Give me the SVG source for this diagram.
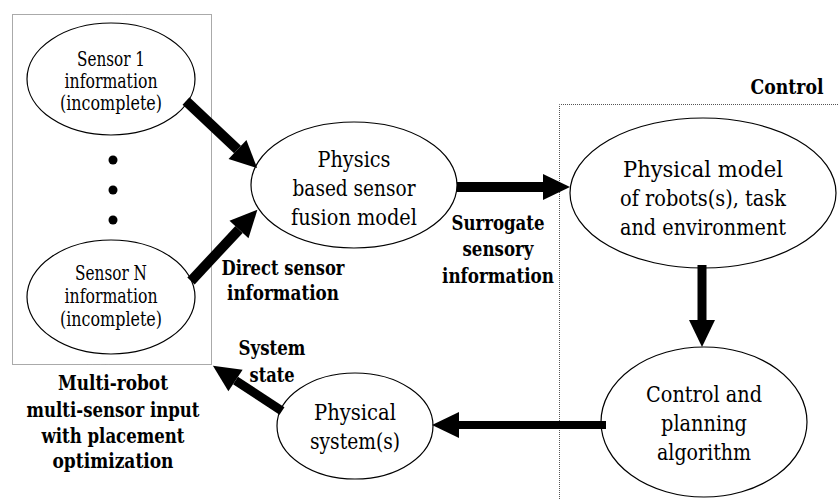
<svg xmlns="http://www.w3.org/2000/svg" width="838" height="499" viewBox="0 0 838 499">
  <style>
    .node { fill: #ffffff; stroke: #000000; stroke-width: 1.2; }
    .frame { fill: none; stroke: #555555; stroke-width: 1; stroke-dasharray: 1 1; }
    text { fill: #000; text-anchor: middle; font-family: 'DejaVu Serif', serif; }
    .t20 { font-size: 19.5px; }
    .t24 { font-size: 23px; }
    .lbl { font-size: 21px; font-weight: bold; }
    .arrow { stroke: #000; fill: none; stroke-linecap: butt; marker-end: url(#head); }
  </style>
  <defs>
    <marker id="head" markerUnits="userSpaceOnUse" markerWidth="27" markerHeight="26" refX="0" refY="13" orient="auto" overflow="visible">
      <path d="M0,0 L27,13 L0,26 z" fill="#000"/>
    </marker>
  </defs>

  <rect width="838" height="499" fill="#ffffff"/>

  <!-- dotted frames -->
  <g id="sensor-frame">
    <rect class="frame" x="12.5" y="14.5" width="199" height="350"/>
    <text class="lbl" x="113" y="390" textLength="110" lengthAdjust="spacingAndGlyphs">Multi-robot</text>
    <text class="lbl" x="113" y="417" textLength="173" lengthAdjust="spacingAndGlyphs">multi-sensor input</text>
    <text class="lbl" x="113" y="443" textLength="143" lengthAdjust="spacingAndGlyphs">with placement</text>
    <text class="lbl" x="113" y="468" textLength="121" lengthAdjust="spacingAndGlyphs">optimization</text>
  </g>
  <g id="control-frame">
    <path class="frame" d="M559.5,499 L559.5,104.5 L838,104.5"/>
    <text class="lbl" x="787" y="94" textLength="73" lengthAdjust="spacingAndGlyphs">Control</text>
  </g>

  <!-- nodes -->
  <g id="sensor-1">
    <ellipse class="node" cx="111" cy="79" rx="84" ry="56"/>
    <text class="t20" x="111" y="66" textLength="68" lengthAdjust="spacingAndGlyphs">Sensor 1</text>
    <text class="t20" x="111" y="88" textLength="93" lengthAdjust="spacingAndGlyphs">information</text>
    <text class="t20" x="111" y="110" textLength="102" lengthAdjust="spacingAndGlyphs">(incomplete)</text>
  </g>
  <g id="sensor-dots">
    <circle cx="113" cy="160" r="4.5" fill="#000"/>
    <circle cx="113" cy="190" r="4.5" fill="#000"/>
    <circle cx="113" cy="220" r="4.5" fill="#000"/>
  </g>
  <g id="sensor-n">
    <ellipse class="node" cx="111" cy="297" rx="84" ry="57"/>
    <text class="t20" x="111" y="280" textLength="72" lengthAdjust="spacingAndGlyphs">Sensor N</text>
    <text class="t20" x="111" y="303" textLength="93" lengthAdjust="spacingAndGlyphs">information</text>
    <text class="t20" x="111" y="326" textLength="102" lengthAdjust="spacingAndGlyphs">(incomplete)</text>
  </g>
  <g id="fusion-model">
    <ellipse class="node" cx="354" cy="185" rx="103" ry="63"/>
    <text class="t24" x="354" y="167" textLength="73" lengthAdjust="spacingAndGlyphs">Physics</text>
    <text class="t24" x="354" y="196" textLength="123" lengthAdjust="spacingAndGlyphs">based sensor</text>
    <text class="t24" x="354" y="225" textLength="126" lengthAdjust="spacingAndGlyphs">fusion model</text>
  </g>
  <g id="physical-model">
    <ellipse class="node" cx="703" cy="193" rx="133" ry="75"/>
    <text class="t24" x="703" y="177" textLength="160" lengthAdjust="spacingAndGlyphs">Physical model</text>
    <text class="t24" x="703" y="206" textLength="166" lengthAdjust="spacingAndGlyphs">of robots(s), task</text>
    <text class="t24" x="703" y="235" textLength="166" lengthAdjust="spacingAndGlyphs">and environment</text>
  </g>
  <g id="control-planning">
    <ellipse class="node" cx="704" cy="422" rx="103" ry="75"/>
    <text class="t24" x="704" y="402" textLength="116" lengthAdjust="spacingAndGlyphs">Control and</text>
    <text class="t24" x="704" y="431" textLength="86" lengthAdjust="spacingAndGlyphs">planning</text>
    <text class="t24" x="704" y="460" textLength="94" lengthAdjust="spacingAndGlyphs">algorithm</text>
  </g>
  <g id="physical-system">
    <ellipse class="node" cx="355" cy="426" rx="78" ry="53"/>
    <text class="t24" x="355" y="420" textLength="82" lengthAdjust="spacingAndGlyphs">Physical</text>
    <text class="t24" x="355" y="449" textLength="90" lengthAdjust="spacingAndGlyphs">system(s)</text>
  </g>

  <!-- connectors -->
  <g id="connectors">
    <line class="arrow" x1="186" y1="101" x2="237.5" y2="149.5" stroke-width="10"/>
    <line class="arrow" x1="191" y1="281" x2="239" y2="229.5" stroke-width="10"/>
    <line class="arrow" x1="457" y1="187" x2="543" y2="187" stroke-width="10"/>
    <line class="arrow" x1="702" y1="265" x2="702" y2="320" stroke-width="9"/>
    <line class="arrow" x1="606" y1="425" x2="459" y2="425" stroke-width="8"/>
    <line class="arrow" x1="282" y1="411" x2="235.5" y2="380.5" stroke-width="9"/>
    <text class="lbl" x="283" y="275" textLength="123" lengthAdjust="spacingAndGlyphs">Direct sensor</text>
    <text class="lbl" x="283" y="300" textLength="112" lengthAdjust="spacingAndGlyphs">information</text>
    <text class="lbl" x="498" y="230" textLength="93" lengthAdjust="spacingAndGlyphs">Surrogate</text>
    <text class="lbl" x="498" y="256" textLength="71" lengthAdjust="spacingAndGlyphs">sensory</text>
    <text class="lbl" x="498" y="283" textLength="112" lengthAdjust="spacingAndGlyphs">information</text>
    <text class="lbl" x="272" y="355" textLength="67" lengthAdjust="spacingAndGlyphs">System</text>
    <text class="lbl" x="272" y="382" textLength="45" lengthAdjust="spacingAndGlyphs">state</text>
  </g>
</svg>
